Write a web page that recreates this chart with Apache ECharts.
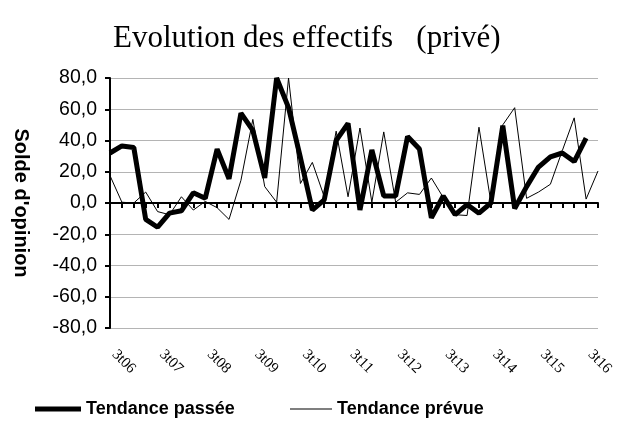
<!DOCTYPE html>
<html>
<head>
<meta charset="utf-8">
<script src="https://cdn.jsdelivr.net/npm/echarts@6/dist/echarts.min.js"></script>
<style>html,body{margin:0;padding:0;background:#fff}#c{width:618px;height:434px}</style>
</head>
<body>
<div id="c"></div>
<script>
var categories = ['3t06','4t06','1t07','2t07','3t07','4t07','1t08','2t08','3t08','4t08',
  '1t09','2t09','3t09','4t09','1t10','2t10','3t10','4t10','1t11','2t11','3t11','4t11',
  '1t12','2t12','3t12','4t12','1t13','2t13','3t13','4t13','1t14','2t14','3t14','4t14',
  '1t15','2t15','3t15','4t15','1t16','2t16','3t16','4t16'];
var tendancePassee = [32,36.5,35.5,-10.5,-15.5,-6.5,-5,6.5,3,34.5,15.5,57.5,46.5,16,80,61,29,-4.5,2,40,51,-4.5,34,4.5,4.5,42.5,34.5,-9.5,4.5,-7.5,-1,-6.5,0,49.5,-3.5,10.5,23,29.5,32,26.5,41.5];
var tendancePrevue = [17.5,0.5,0,7,-5.5,-7.5,4,-4.5,1,-3,-10.5,14.5,53.5,10.5,0.5,80,12.5,26,4,46,4,48,0.5,45.5,0.5,6.5,5.5,16,3.5,-7.5,-8,48.5,0.5,50,61,3,7,12,33.5,54.5,2.5,20.5];
var yTicks = {min:-80, max:80, step:20};
var seriesNames = ['Tendance passée','Tendance prévue'];
var titleText = 'Evolution des effectifs   (privé)';
var yName = "Solde d'opinion";

var legendText = {fontFamily:'Liberation Sans',fontWeight:'bold',fontSize:18,color:'#000'};
var chart = echarts.init(document.getElementById('c'));
chart.setOption({
  animation:false,
  backgroundColor:'#fff',
  title:{text:titleText,left:108,top:18,textStyle:{fontFamily:'Liberation Serif',fontWeight:'normal',fontSize:31,color:'#000'}},
  legend:[
    {data:[seriesNames[0]],left:35,top:400,padding:0,itemWidth:46,itemHeight:5,icon:'rect',textStyle:legendText},
    {data:[seriesNames[1]],left:290,top:400,padding:0,itemWidth:42,itemHeight:1,icon:'rect',textStyle:legendText}
  ],
  grid:{left:110,right:20,top:78,bottom:106,containLabel:false},
  xAxis:[
    {type:'category',data:categories,boundaryGap:false,position:'bottom',
      axisLine:{show:false,onZero:false},axisTick:{show:false},
      axisLabel:{interval:3,rotate:-45,margin:20,padding:[0,0,0,6],fontFamily:'Liberation Serif',fontSize:15,color:'#000'},
      splitLine:{show:false}},
    {type:'category',data:categories,boundaryGap:false,position:'bottom',
      axisLine:{show:true,onZero:true,lineStyle:{color:'#000',width:2}},
      axisTick:{show:true,interval:0,length:5,inside:false,lineStyle:{color:'#000',width:2}},
      axisLabel:{show:false},splitLine:{show:false}}
  ],
  yAxis:{type:'value',min:yTicks.min,max:yTicks.max,interval:yTicks.step,
    name:yName,nameLocation:'middle',nameRotate:-90,nameGap:79,
    nameTextStyle:{fontFamily:'Liberation Sans',fontWeight:'bold',fontSize:20,color:'#000'},
    axisLine:{show:true,lineStyle:{color:'#000',width:2}},
    axisTick:{show:true,length:5,lineStyle:{color:'#000',width:2}},
    axisLabel:{margin:13,fontFamily:'Liberation Sans',fontSize:19.5,color:'#000',
      formatter:function(v){return v.toFixed(1).replace('.',',');}},
    splitLine:{show:true,lineStyle:{color:'#b4b4b4',width:1}}},
  series:[
    {name:seriesNames[0],type:'line',xAxisIndex:1,data:tendancePassee,symbol:'none',
      lineStyle:{color:'#000',width:5},itemStyle:{color:'#000'},z:3},
    {name:seriesNames[1],type:'line',xAxisIndex:1,data:tendancePrevue,symbol:'none',
      lineStyle:{color:'#000',width:1},itemStyle:{color:'#000'},z:4}
  ]
});
</script>
</body>
</html>
